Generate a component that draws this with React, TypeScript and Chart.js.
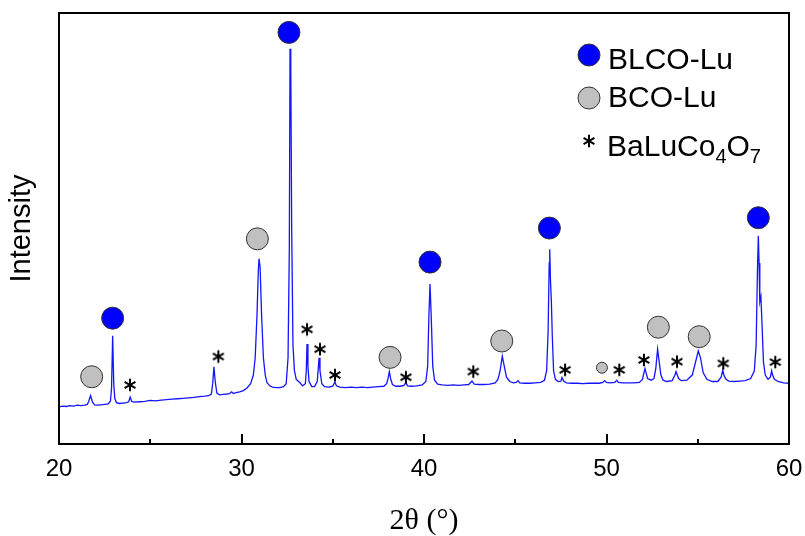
import React, { useEffect, useRef } from "react";
import { Chart, registerables } from "chart.js";

Chart.register(...registerables);

// XRD pattern (2θ in degrees, intensity in arbitrary units)
const twoTheta = [
  20.0, 20.2, 20.4, 20.6, 20.8, 21.0, 21.2, 21.4, 21.55, 21.62, 21.73, 21.84, 21.95, 22.1, 22.3, 22.5, 22.7,
  22.82, 22.88, 22.94, 23.0, 23.06, 23.15, 23.3, 23.5, 23.7, 23.82, 23.9, 23.98, 24.1, 24.4, 24.7, 25.0,
  25.3, 25.6, 25.9, 26.2, 26.5, 26.8, 27.1, 27.4, 27.7, 28.0, 28.2, 28.35, 28.42, 28.49, 28.56, 28.65,
  28.8, 29.0, 29.2, 29.35, 29.46, 29.55, 29.7, 29.9, 30.1, 30.3, 30.5, 30.65, 30.75, 30.85, 30.92, 30.96,
  31.02, 31.1, 31.2, 31.3, 31.4, 31.55, 31.7, 31.9, 32.1, 32.3, 32.45, 32.55, 32.62, 32.66, 32.7, 32.75,
  32.82, 32.9, 33.0, 33.1, 33.2, 33.35, 33.5, 33.55, 33.59, 33.64, 33.7, 33.85, 34.0, 34.15, 34.25, 34.3,
  34.4, 34.55, 34.8, 35.0, 35.12, 35.2, 35.4, 35.7, 36.0, 36.3, 36.6, 36.9, 37.2, 37.5, 37.8, 37.95,
  38.03, 38.1, 38.17, 38.27, 38.45, 38.7, 38.9, 39.01, 39.1, 39.3, 39.6, 39.9, 40.1, 40.2, 40.27, 40.33,
  40.4, 40.48, 40.58, 40.75, 41.0, 41.3, 41.6, 41.9, 42.2, 42.45, 42.63, 42.75, 43.0, 43.3, 43.6, 43.9,
  44.05, 44.17, 44.29, 44.4, 44.52, 44.7, 44.9, 45.05, 45.15, 45.25, 45.5, 45.8, 46.1, 46.4, 46.6, 46.72,
  46.8, 46.86, 46.89, 46.93, 46.98, 47.03, 47.1, 47.2, 47.35, 47.5, 47.56, 47.65, 47.8, 48.1, 48.4, 48.7,
  49.0, 49.3, 49.6, 49.8, 49.9, 50.0, 50.2, 50.45, 50.56, 50.65, 50.9, 51.2, 51.5, 51.8, 51.97, 52.05,
  52.11, 52.17, 52.25, 52.45, 52.6, 52.7, 52.8, 52.86, 52.91, 52.98, 53.1, 53.3, 53.6, 53.75, 53.81, 53.88,
  53.95, 54.1, 54.4, 54.7, 54.85, 55.03, 55.15, 55.3, 55.5, 55.8, 56.1, 56.28, 56.37, 56.45, 56.55, 56.7,
  57.0, 57.3, 57.6, 57.9, 58.1, 58.2, 58.27, 58.32, 58.36, 58.4, 58.46, 58.52, 58.6, 58.7, 58.85, 58.98,
  59.05, 59.1, 59.2, 59.4, 59.7, 60.0,
];
const intensity = [
  86, 88, 87, 89, 88, 90, 89, 90, 92, 98, 112, 97, 91, 90, 91, 92, 93,
  100, 130, 251, 140, 105, 96, 94, 95, 96, 98, 109, 99, 97, 98, 99, 101,
  100, 102, 103, 104, 105, 106, 107, 108, 110, 111, 112, 116, 140, 179, 145, 118,
  114, 115, 116, 117, 121, 117, 119, 121, 124, 130, 140, 160, 200, 300, 400, 430,
  410, 300, 200, 160, 142, 135, 132, 131, 131, 133, 140, 200, 450, 917, 880, 500,
  230, 170, 150, 146, 142, 135, 140, 170, 232, 180, 145, 133, 133, 145, 200, 170,
  140, 133, 132, 134, 144, 135, 132, 131, 132, 131, 132, 131, 132, 133, 134, 140,
  152, 168, 152, 138, 134, 134, 136, 142, 135, 134, 135, 137, 145, 180, 300, 371,
  290, 180, 148, 139, 137, 136, 137, 136, 137, 138, 146, 139, 138, 138, 139, 142,
  150, 170, 204, 180, 155, 145, 142, 143, 147, 142, 141, 141, 142, 143, 148, 170,
  260, 420, 452, 380, 330, 250, 170, 150, 145, 146, 154, 146, 142, 141, 141, 140,
  141, 141, 141, 143, 147, 143, 142, 143, 148, 143, 142, 142, 142, 143, 150, 165,
  175, 165, 152, 148, 152, 175, 220, 200, 183, 160, 148, 145, 147, 160, 168, 160,
  152, 147, 148, 160, 185, 216, 200, 165, 150, 145, 145, 155, 171, 158, 150, 146,
  145, 146, 147, 152, 170, 230, 400, 483, 420, 330, 342, 280, 190, 160, 150, 155,
  170, 160, 150, 145, 142, 141,
];

// Phase markers
const blcoTheta = [22.94, 32.6, 40.33, 46.87, 58.32];
const blcoLevel = [292, 955, 422, 501, 525];
const bcoTheta = [21.79, 30.87, 38.14, 44.26, 52.84, 55.08];
const bcoLevel = [156, 476, 201, 239, 271, 249];
const bcoMinorTheta = [49.75];
const bcoMinorLevel = [177];
const starTheta = [23.89, 28.73, 33.59, 34.3, 35.12, 39.01, 42.7, 47.73, 50.7, 52.05, 53.86, 56.4, 59.25];
const starLevel = [137, 203, 266, 220, 160, 155, 168, 172, 172, 195, 191, 187, 190];

const xTicks = [20, 30, 40, 50, 60];
const xMinorTicks = [25, 35, 45, 55];

const BLUE = "#0000ff";
const GRAY = "#c0c0c0";
const EDGE = "#333333";
const SANS = "'Liberation Sans', Arial, sans-serif";
const SERIF = "'Liberation Serif', 'Times New Roman', serif";

function makeAsterisk(): HTMLCanvasElement {
  const c = document.createElement("canvas");
  c.width = 16;
  c.height = 16;
  const g = c.getContext("2d")!;
  g.strokeStyle = "#000";
  g.lineWidth = 2;
  g.lineCap = "butt";
  const r = 6.3;
  for (let k = 0; k < 3; k++) {
    const a = Math.PI / 2 + (k * Math.PI) / 3;
    g.beginPath();
    g.moveTo(8 - r * Math.cos(a), 8 - r * Math.sin(a));
    g.lineTo(8 + r * Math.cos(a), 8 + r * Math.sin(a));
    g.stroke();
  }
  return c;
}

const zip = (xs: number[], ys: number[]) => xs.map((x, i) => ({ x, y: ys[i] }));

export default function App() {
  const ref = useRef<HTMLCanvasElement | null>(null);

  useEffect(() => {
    if (!ref.current) return;
    const star = makeAsterisk();

    const framePlugin = {
      id: "frameAndTicks",
      afterDatasetsDraw(chart: any) {
        const { ctx, chartArea, scales } = chart;
        const xs = scales.x;
        ctx.save();
        ctx.strokeStyle = "#000";
        ctx.lineWidth = 2;
        ctx.strokeRect(chartArea.left, chartArea.top, chartArea.right - chartArea.left, chartArea.bottom - chartArea.top);
        const drawTick = (v: number, len: number) => {
          const px = Math.round(xs.getPixelForValue(v));
          ctx.beginPath();
          ctx.moveTo(px, chartArea.bottom);
          ctx.lineTo(px, chartArea.bottom - len);
          ctx.stroke();
        };
        xTicks.forEach((v) => drawTick(v, 10));
        xMinorTicks.forEach((v) => drawTick(v, 5));
        ctx.restore();
      },
      afterDraw(chart: any) {
        const { ctx } = chart;
        ctx.save();
        const circle = (cx: number, cy: number, fill: string) => {
          ctx.beginPath();
          ctx.arc(cx, cy, 11, 0, Math.PI * 2);
          ctx.fillStyle = fill;
          ctx.fill();
          ctx.lineWidth = 1;
          ctx.strokeStyle = EDGE;
          ctx.stroke();
        };
        circle(589, 55, BLUE);
        circle(589, 98, GRAY);
        ctx.drawImage(star, 589 - 8, 141 - 8);
        ctx.fillStyle = "#000";
        ctx.textBaseline = "alphabetic";
        ctx.textAlign = "left";
        ctx.font = `30px ${SANS}`;
        ctx.fillText("BLCO-Lu", 608, 69);
        ctx.fillText("BCO-Lu", 608, 107);
        let x = 607;
        ctx.fillText("BaLuCo", x, 156);
        x += ctx.measureText("BaLuCo").width;
        ctx.font = `20px ${SANS}`;
        ctx.fillText("4", x, 163);
        x += ctx.measureText("4").width;
        ctx.font = `30px ${SANS}`;
        ctx.fillText("O", x, 156);
        x += ctx.measureText("O").width;
        ctx.font = `20px ${SANS}`;
        ctx.fillText("7", x, 163);
        ctx.restore();
      },
    };

    const chart = new Chart(ref.current, {
      type: "scatter",
      data: {
        datasets: [
          {
            label: "BLCO-Lu",
            data: zip(blcoTheta, blcoLevel),
            pointStyle: "circle",
            pointRadius: 11,
            pointBackgroundColor: BLUE,
            pointBorderColor: EDGE,
            pointBorderWidth: 1,
            showLine: false,
          },
          {
            label: "BCO-Lu",
            data: zip(bcoTheta, bcoLevel),
            pointStyle: "circle",
            pointRadius: 11,
            pointBackgroundColor: GRAY,
            pointBorderColor: EDGE,
            pointBorderWidth: 1,
            showLine: false,
          },
          {
            label: "BCO-Lu (minor)",
            data: zip(bcoMinorTheta, bcoMinorLevel),
            pointStyle: "circle",
            pointRadius: 5.5,
            pointBackgroundColor: GRAY,
            pointBorderColor: EDGE,
            pointBorderWidth: 1,
            showLine: false,
          },
          {
            label: "BaLuCo4O7",
            data: zip(starTheta, starLevel),
            pointStyle: star as any,
            pointRadius: 8,
            showLine: false,
          },
          {
            label: "XRD",
            data: zip(twoTheta, intensity),
            showLine: true,
            borderColor: "#1414ff",
            borderWidth: 1.3,
            pointRadius: 0,
            tension: 0,
          },
        ],
      },
      options: {
        animation: false,
        responsive: false,
        maintainAspectRatio: false,
        layout: { padding: { top: 13, right: 16, left: 0, bottom: 0 } },
        plugins: { legend: { display: false }, tooltip: { enabled: false } },
        scales: {
          x: {
            type: "linear",
            min: 20,
            max: 60,
            afterFit: (s: any) => {
              s.height = 92;
              s.paddingLeft = 0;
              s.paddingRight = 0;
            },
            grid: { display: false, drawTicks: false },
            border: { display: false },
            ticks: {
              stepSize: 10,
              padding: 11,
              color: "#000",
              font: { family: SANS, size: 24 },
              callback: (v: any) => (xTicks.includes(Number(v)) ? String(v) : ""),
            },
            title: {
              display: true,
              text: "2θ (°)",
              color: "#000",
              font: { family: SERIF, size: 30, lineHeight: 1.0 },
              padding: { top: 0, bottom: 0 },
            },
          },
          y: {
            type: "linear",
            min: 0,
            max: 1000,
            afterFit: (s: any) => {
              s.width = 59;
              s.paddingTop = 0;
              s.paddingBottom = 0;
            },
            grid: { display: false, drawTicks: false },
            border: { display: false },
            ticks: { display: false },
            title: {
              display: true,
              text: "Intensity",
              color: "#000",
              font: { family: SANS, size: 29, lineHeight: 1.2 },
              padding: { top: 5, bottom: 0 },
            },
          },
        },
      },
      plugins: [framePlugin],
    });
    return () => chart.destroy();
  }, []);

  return (
    <div style={{ position: "absolute", left: 0, top: 0, width: 805, height: 536, background: "#fff" }}>
      <canvas ref={ref} width={805} height={536} style={{ display: "block" }} />
    </div>
  );
}
